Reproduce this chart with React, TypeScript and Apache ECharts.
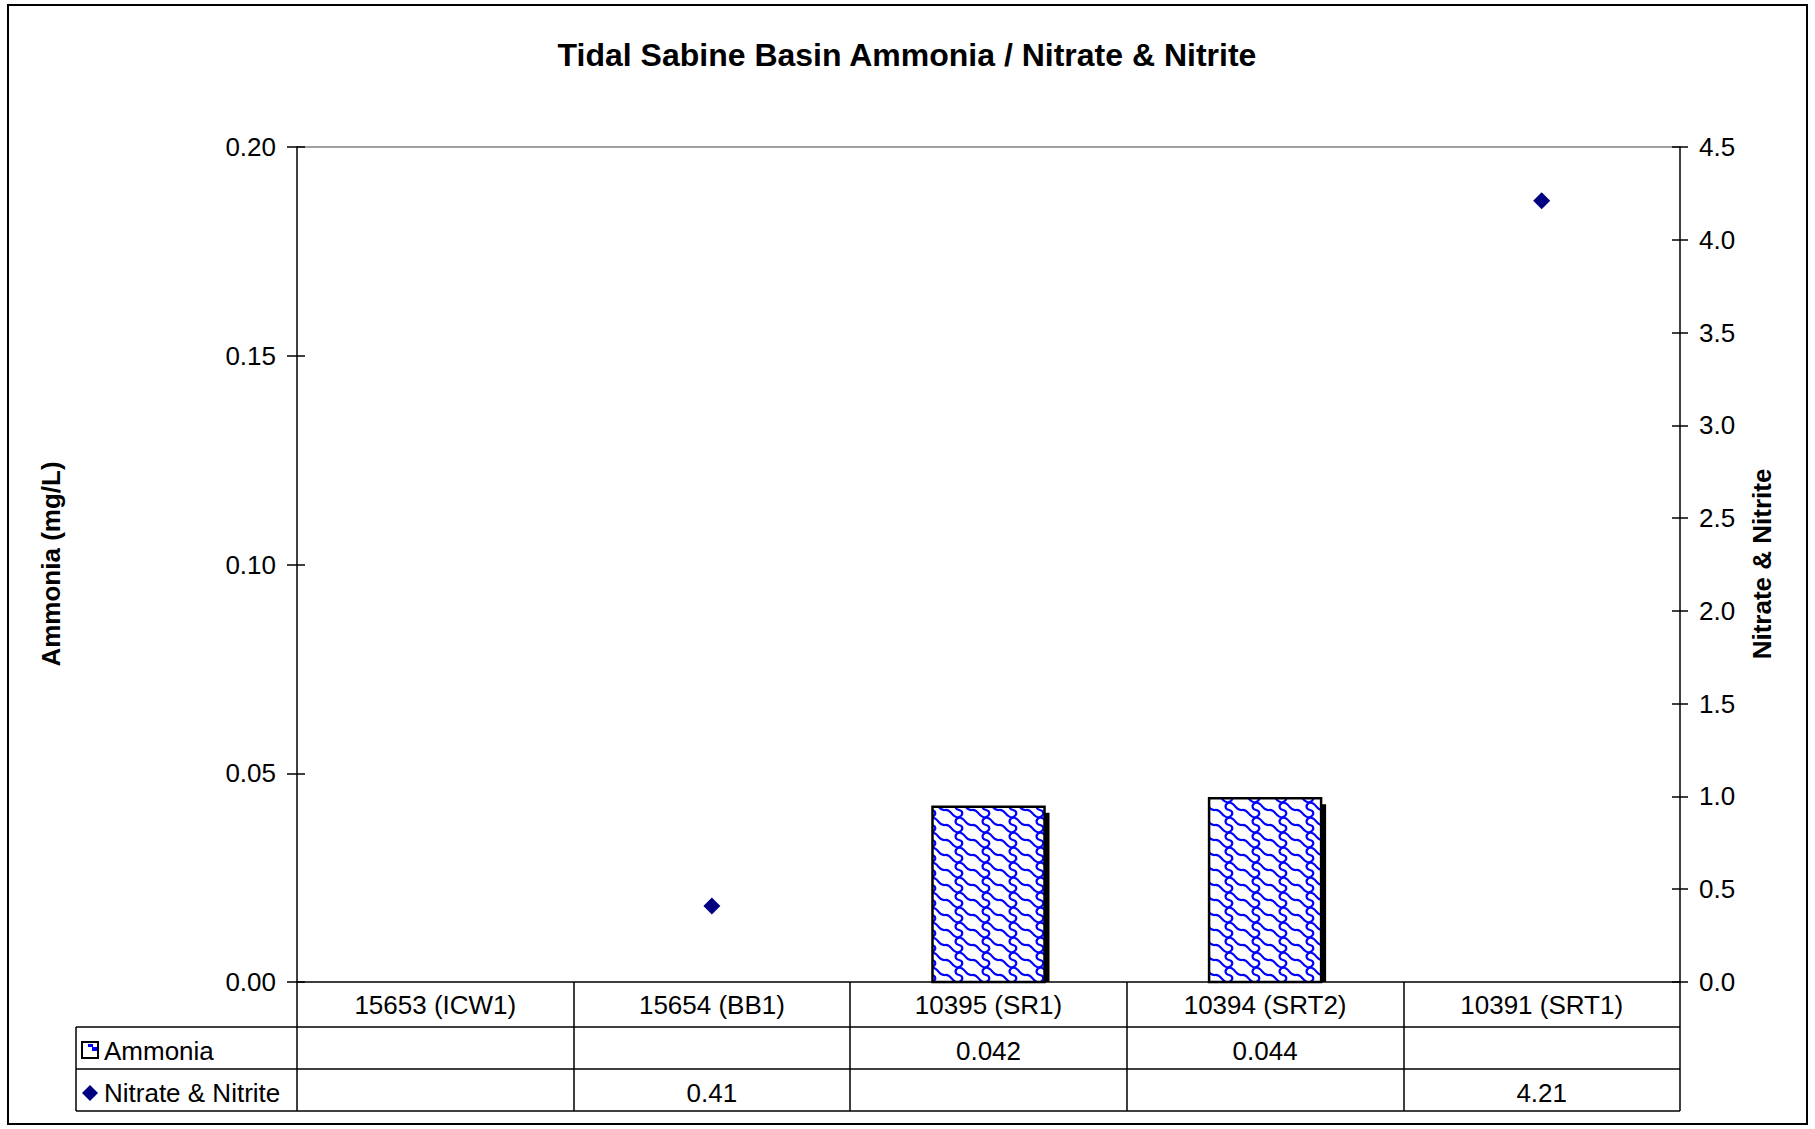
import React, { useEffect, useRef } from "react";
import * as echarts from "echarts";

const TITLE = "Tidal Sabine Basin Ammonia / Nitrate & Nitrite";
const categories = ["15653 (ICW1)", "15654 (BB1)", "10395 (SR1)", "10394 (SRT2)", "10391 (SRT1)"];
const ammonia: (number | null)[] = [null, null, 0.042, 0.044, null];
const nitrate: (number | null)[] = [null, 0.41, null, null, 4.21];
const seriesNames = ["Ammonia", "Nitrate & Nitrite"];
const leftAxisName = "Ammonia (mg/L)";
const rightAxisName = "Nitrate & Nitrite";
const leftTicks = { min: 0, max: 0.2, interval: 0.05, decimals: 2 };
const rightTicks = { min: 0, max: 4.5, interval: 0.5, decimals: 1 };

const FONT = "'Liberation Sans', Arial, Helvetica, sans-serif";
const W = 1815;
const H = 1129;
const GL = 297;
const GR = 1680;
const GT = 147;
const GB = 982;
const R1 = 1027;
const R2 = 1069;
const R3 = 1111;
const TL = 76;

function makePattern(): HTMLCanvasElement {
  const w = 27;
  const h = 15;
  const c = document.createElement("canvas");
  c.width = w;
  c.height = h;
  const ctx = c.getContext("2d")!;
  ctx.fillStyle = "#ffffff";
  ctx.fillRect(0, 0, w, h);
  ctx.strokeStyle = "#0000ff";
  ctx.lineWidth = 2.2;
  ctx.lineCap = "round";
  for (const dx of [-w, 0, w]) {
    for (const dy of [-h, 0, h]) {
      ctx.beginPath();
      ctx.moveTo(dx, dy);
      ctx.bezierCurveTo(dx + 7, dy - 1, dx + 6, dy + 7.5, dx + 13.5, dy + 7.5);
      ctx.bezierCurveTo(dx + 21, dy + 7.5, dx + 20, dy + 16, dx + 27, dy + 15);
      ctx.moveTo(dx + 13.5, dy + 7.5);
      ctx.bezierCurveTo(dx + 9, dy + 10, dx + 10, dy + 14, dx + 14, dy + 15);
      ctx.bezierCurveTo(dx + 18, dy + 16, dx + 19, dy + 20, dx + 13.5, dy + 22.5);
      ctx.stroke();
    }
  }
  return c;
}

export default function App() {
  const ref = useRef<HTMLDivElement>(null);
  useEffect(() => {
    if (!ref.current) return;
    const chart = echarts.init(ref.current, null, { renderer: "svg" });
    const pattern = { image: makePattern(), repeat: "repeat" };
    const catW = (GR - GL) / categories.length;
    const lineStyle = { color: "#000", width: 1.5 };

    const graphics: any[] = [
      {
        type: "rect",
        shape: { x: 8, y: 5, width: 1799, height: 1119 },
        style: { fill: "none", stroke: "#000", lineWidth: 2 },
        z: 0,
      },
      {
        type: "text",
        x: 907,
        y: 55,
        style: {
          text: TITLE,
          fontSize: 32,
          fontWeight: "bold",
          fontFamily: FONT,
          fill: "#000",
          align: "center",
          verticalAlign: "middle",
        },
      },
      {
        type: "line",
        shape: { x1: GL, y1: GT, x2: GR, y2: GT },
        style: { stroke: "#808080", lineWidth: 1.5 },
      },
      {
        type: "text",
        x: 51,
        y: 564,
        rotation: Math.PI / 2,
        style: {
          text: leftAxisName,
          fontSize: 26,
          fontWeight: "bold",
          fontFamily: FONT,
          fill: "#000",
          align: "center",
          verticalAlign: "middle",
        },
      },
      {
        type: "text",
        x: 1762,
        y: 564,
        rotation: Math.PI / 2,
        style: {
          text: rightAxisName,
          fontSize: 26,
          fontWeight: "bold",
          fontFamily: FONT,
          fill: "#000",
          align: "center",
          verticalAlign: "middle",
        },
      },
    ];
    [R1, R2, R3].forEach((y) => {
      graphics.push({
        type: "line",
        shape: { x1: TL, y1: y, x2: GR, y2: y },
        style: { stroke: "#000", lineWidth: 1.5 },
      });
    });
    graphics.push({
      type: "line",
      shape: { x1: TL, y1: R1, x2: TL, y2: R3 },
      style: { stroke: "#000", lineWidth: 1.5 },
    });
    graphics.push({
      type: "rect",
      shape: { x: 82, y: 1042, width: 16, height: 16 },
      style: { fill: "#fff", stroke: "#000", lineWidth: 2 },
    });
    graphics.push({
      type: "rect",
      shape: { x: 88, y: 1044, width: 5, height: 3 },
      style: { fill: "#0000ff" },
    });
    graphics.push({
      type: "rect",
      shape: { x: 92, y: 1047, width: 5, height: 4 },
      style: { fill: "#0000ff" },
    });
    graphics.push({
      type: "polygon",
      shape: { points: [[90, 1085], [98, 1093], [90, 1101], [82, 1093]] },
      style: { fill: "#000080" },
    });
    const rowYs = [(R1 + R2) / 2 + 2.5, (R2 + R3) / 2 + 2.5];
    seriesNames.forEach((name, r) => {
      graphics.push({
        type: "text",
        x: 104,
        y: rowYs[r],
        style: {
          text: name,
          fontSize: 26,
          fontFamily: FONT,
          fill: "#000",
          align: "left",
          verticalAlign: "middle",
        },
      });
    });
    [ammonia, nitrate].forEach((arr, r) => {
      arr.forEach((v, i) => {
        if (v == null) return;
        graphics.push({
          type: "text",
          x: GL + (i + 0.5) * catW,
          y: rowYs[r],
          style: {
            text: String(v),
            fontSize: 26,
            fontFamily: FONT,
            fill: "#000",
            align: "center",
            verticalAlign: "middle",
          },
        });
      });
    });

    const barData = ammonia
      .map((v, i) => (v == null ? null : [i, v]))
      .filter((d) => d != null);

    const option: any = {
      animation: false,
      backgroundColor: "#fff",
      grid: { left: GL, top: GT, width: GR - GL, height: GB - GT, containLabel: false },
      xAxis: {
        type: "category",
        data: categories,
        boundaryGap: true,
        axisLine: { show: true, lineStyle },
        axisTick: { show: true, alignWithLabel: false, inside: false, length: R3 - GB, lineStyle },
        axisLabel: { color: "#000", fontSize: 26, fontFamily: FONT, margin: 10, interval: 0 },
        splitLine: { show: false },
      },
      yAxis: [
        {
          type: "value",
          position: "left",
          min: leftTicks.min,
          max: leftTicks.max,
          interval: leftTicks.interval,
          axisLine: { show: true, lineStyle },
          axisTick: { show: true, length: 10, lineStyle },
          axisLabel: {
            color: "#000",
            fontSize: 26,
            fontFamily: FONT,
            margin: 21,
            formatter: (v: number) => v.toFixed(leftTicks.decimals),
          },
          splitLine: { show: false },
        },
        {
          type: "value",
          position: "right",
          min: rightTicks.min,
          max: rightTicks.max,
          interval: rightTicks.interval,
          axisLine: { show: true, lineStyle },
          axisTick: { show: true, length: 8, lineStyle },
          axisLabel: {
            color: "#000",
            fontSize: 26,
            fontFamily: FONT,
            margin: 19,
            formatter: (v: number) => v.toFixed(rightTicks.decimals),
          },
          splitLine: { show: false },
        },
        {
          type: "value",
          position: "left",
          min: leftTicks.min,
          max: leftTicks.max,
          interval: leftTicks.interval,
          axisLine: { show: false },
          axisTick: { show: true, inside: true, length: 8, lineStyle },
          axisLabel: { show: false },
          splitLine: { show: false },
        },
        {
          type: "value",
          position: "right",
          min: rightTicks.min,
          max: rightTicks.max,
          interval: rightTicks.interval,
          axisLine: { show: false },
          axisTick: { show: true, inside: true, length: 8, lineStyle },
          axisLabel: { show: false },
          splitLine: { show: false },
        },
      ],
      series: [
        {
          name: seriesNames[0],
          type: "custom",
          yAxisIndex: 0,
          encode: { x: 0, y: 1 },
          data: barData,
          z: 3,
          renderItem: (params: any, api: any) => {
            const v = api.value(1);
            const ci = api.value(0);
            const top = api.coord([ci, v]);
            const base = api.coord([ci, 0]);
            const bw = api.size([1, 0])[0] * 0.405;
            const x = top[0] - bw / 2;
            return {
              type: "group",
              children: [
                {
                  type: "rect",
                  shape: { x: x + 5, y: top[1] + 6, width: bw, height: base[1] - top[1] - 6 },
                  style: { fill: "#000" },
                },
                {
                  type: "rect",
                  shape: { x, y: top[1], width: bw, height: base[1] - top[1] },
                  style: { fill: pattern, stroke: "#000", lineWidth: 2.5 },
                },
              ],
            };
          },
        },
        {
          name: seriesNames[1],
          type: "scatter",
          yAxisIndex: 1,
          symbol: "diamond",
          symbolSize: 17,
          itemStyle: { color: "#000080", opacity: 1 },
          data: nitrate.map((v) => (v == null ? "-" : v)),
          z: 4,
        },
      ],
      graphic: graphics,
    };
    chart.setOption(option);
    return () => chart.dispose();
  }, []);
  return (
    <div
      ref={ref}
      style={{ position: "absolute", left: 0, top: 0, width: W, height: H }}
    />
  );
}
